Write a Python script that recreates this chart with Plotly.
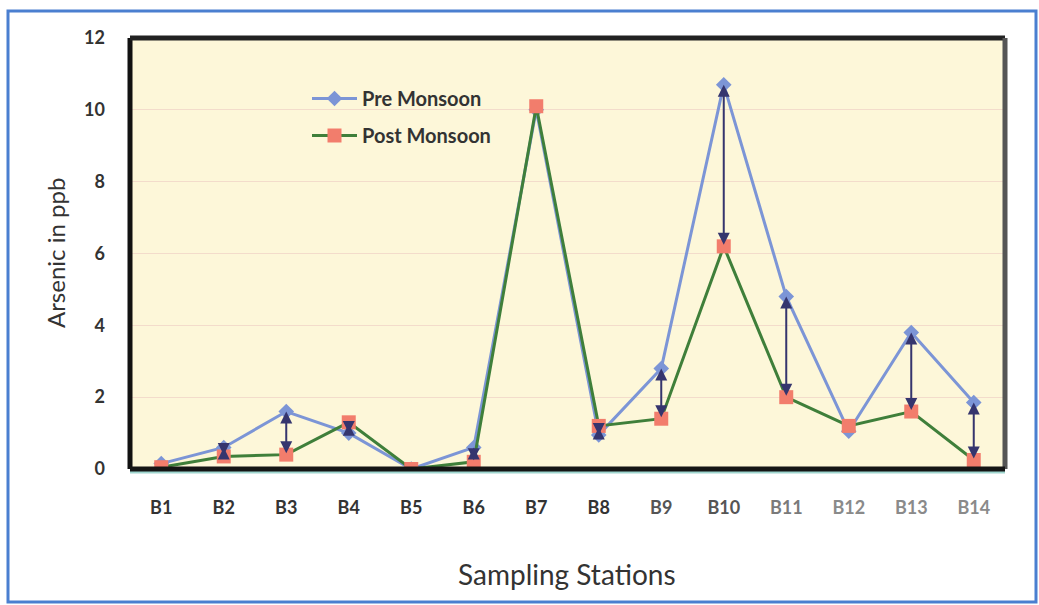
import plotly.graph_objects as go

# Arsenic concentration (ppb) at each sampling station
stations = ["B1", "B2", "B3", "B4", "B5", "B6", "B7", "B8", "B9", "B10", "B11", "B12", "B13", "B14"]
pre_monsoon = [0.15, 0.6, 1.6, 1.0, 0.0, 0.6, 10.0, 0.95, 2.8, 10.7, 4.8, 1.05, 3.8, 1.85]
post_monsoon = [0.05, 0.35, 0.4, 1.3, 0.0, 0.2, 10.1, 1.2, 1.4, 6.2, 2.0, 1.2, 1.6, 0.25]
y_ticks = [0, 2, 4, 6, 8, 10, 12]
label_colors = ["#333333"] * 8 + ["#555555", "#555555", "#7a7a7a", "#8a8a8a", "#8a8a8a", "#8a8a8a"]

x_idx = list(range(1, len(stations) + 1))
FONT = "Lato"

W, H = 1039, 605
L, R, T, B = 130, 34, 38, 136
PW, PH = W - L - R, H - T - B


def px_x(p):
    return (p - L) / PW


def px_y(p):
    return (H - B - p) / PH


fig = go.Figure()

fig.add_trace(go.Scatter(
    x=x_idx, y=pre_monsoon, name="Pre Monsoon", mode="lines+markers",
    line=dict(color="#7c95d6", width=3),
    marker=dict(symbol="diamond", size=12, color="#7c95d6"),
    legendgroup="pre",
))
fig.add_trace(go.Scatter(
    x=x_idx, y=post_monsoon, name="Post Monsoon", mode="lines+markers",
    line=dict(color="#3f7f3a", width=3),
    marker=dict(symbol="square", size=14, color="#f27d6c"),
    legendgroup="post",
))

# double-headed arrows showing the seasonal change at each station
annotations = []
for xi, a, b in zip(x_idx, pre_monsoon, post_monsoon):
    if abs(a - b) < 1e-9:
        continue
    annotations.append(dict(
        x=xi, y=a, ax=xi, ay=b, xref="x", yref="y", axref="x", ayref="y",
        showarrow=True, arrowhead=2, startarrowhead=2, arrowside="end+start",
        arrowsize=1.2, startarrowsize=1.2, arrowwidth=2, arrowcolor="#35356e", text="",
    ))

# axis titles
annotations.append(dict(
    text="Arsenic in ppb", x=px_x(55), y=px_y(253), xref="paper", yref="paper",
    xanchor="center", yanchor="middle",
    showarrow=False, textangle=-90, font=dict(family=FONT, size=24, color="#333333"),
))
annotations.append(dict(
    text="Sampling Stations", x=px_x(567), y=px_y(574), xref="paper", yref="paper",
    xanchor="center", yanchor="middle",
    showarrow=False, font=dict(family=FONT, size=28, color="#333333"),
))

shapes = [
    # outer blue frame
    dict(type="rect", xref="paper", yref="paper",
         x0=px_x(8), x1=px_x(1036), y0=px_y(602), y1=px_y(11),
         line=dict(color="#4a7fd0", width=3), layer="below"),
    # plot frame
    dict(type="line", xref="paper", yref="paper", x0=0, x1=0, y0=0, y1=1,
         line=dict(color="#111111", width=5)),
    dict(type="line", xref="paper", yref="paper", x0=0, x1=1, y0=1, y1=1,
         line=dict(color="#222222", width=5)),
    dict(type="line", xref="paper", yref="paper", x0=1, x1=1, y0=0, y1=1,
         line=dict(color="#555555", width=5)),
    dict(type="line", xref="paper", yref="paper", x0=0, x1=1, y0=px_y(472), y1=px_y(472),
         line=dict(color="#9fd6cf", width=3)),
    dict(type="line", xref="paper", yref="paper", x0=0, x1=1, y0=0, y1=0,
         line=dict(color="#151515", width=5)),
]

ticktext = [f"<span style='color:{c}'>{s}</span>" for s, c in zip(stations, label_colors)]

fig.update_layout(
    width=W, height=H,
    margin=dict(l=L, r=R, t=T, b=B),
    paper_bgcolor="white",
    plot_bgcolor="#fdf7d9",
    showlegend=True,
    legend=dict(
        x=px_x(307), y=px_y(79), xanchor="left", yanchor="top",
        bgcolor="rgba(0,0,0,0)", font=dict(family=FONT, size=20, color="#333333", weight="bold"),
        tracegroupgap=8, traceorder="grouped", itemwidth=45,
    ),
    xaxis=dict(
        range=[0.5, len(stations) + 0.5], tickvals=x_idx, ticktext=ticktext,
        showgrid=False, zeroline=False, showline=False, ticks="",
        tickfont=dict(family=FONT, size=18, color="#333333", weight="bold"),
        ticklabelstandoff=26,
    ),
    yaxis=dict(
        range=[0, 12], tickvals=y_ticks, showgrid=True, gridcolor="#f3dccb", gridwidth=1,
        zeroline=False, showline=False, ticks="",
        tickfont=dict(family=FONT, size=18, color="#333333", weight="bold"),
        ticklabelstandoff=24,
    ),
    annotations=annotations,
    shapes=shapes,
)

fig.write_html("out.html")
